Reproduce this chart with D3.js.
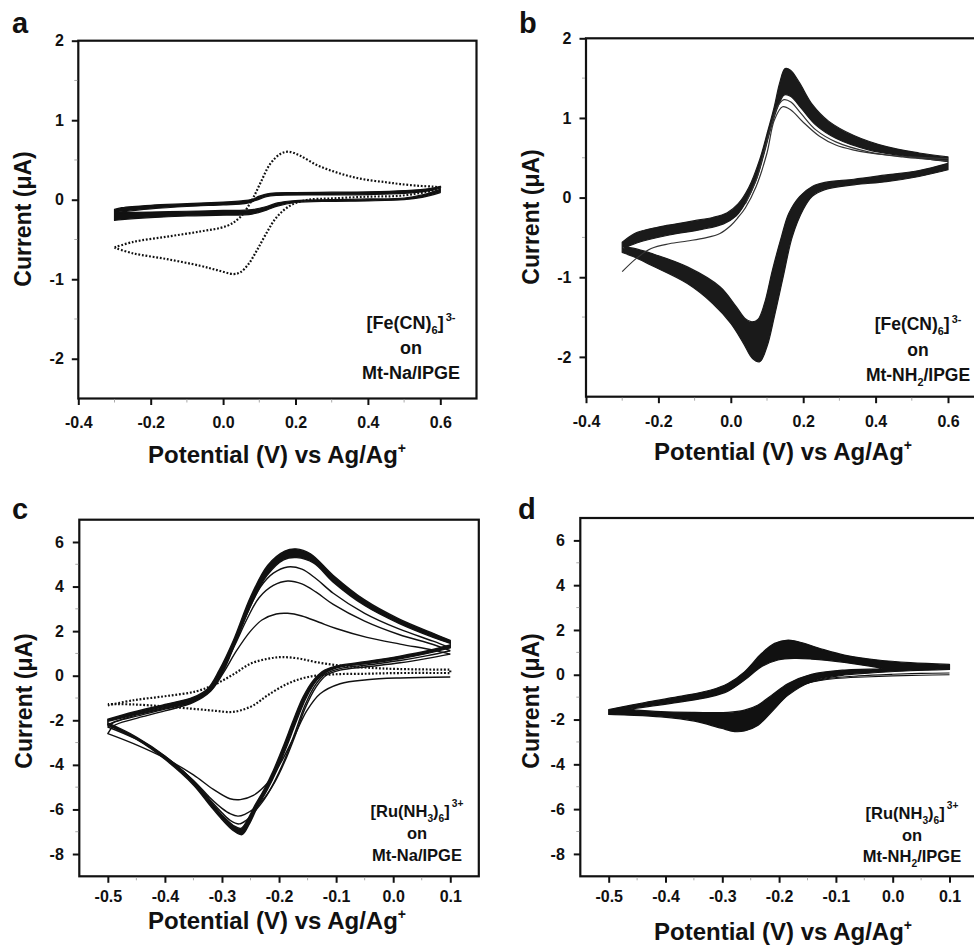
<!DOCTYPE html>
<html><head><meta charset="utf-8">
<script src="https://cdn.jsdelivr.net/npm/d3@7"></script>
<style>
html,body{margin:0;padding:0;background:#fff;}
svg{display:block;font-family:"Liberation Sans",Arial,Helvetica,sans-serif;font-weight:bold;}
</style></head><body>
<svg id="chart" width="974" height="946"></svg>
<script>
// ---------- tick values / labels ----------
const feXTicks = [-0.4,-0.2,0.0,0.2,0.4,0.6];
const feXTickLabels = ["-0.4","-0.2","0.0","0.2","0.4","0.6"];
const feYTicks = [2,1,0,-1,-2];
const feYTickLabels = ["2","1","0","-1","-2"];
const feXMinor = [-0.3,-0.1,0.1,0.3,0.5];
const feYMinor = [1.5,0.5,-0.5,-1.5];
const ruXTicks = [-0.5,-0.4,-0.3,-0.2,-0.1,0.0,0.1];
const ruXTickLabels = ["-0.5","-0.4","-0.3","-0.2","-0.1","0.0","0.1"];
const ruYTicks = [6,4,2,0,-2,-4,-6,-8];
const ruYTickLabels = ["6","4","2","0","-2","-4","-6","-8"];
const ruXMinor = [-0.45,-0.35,-0.25,-0.15,-0.05,0.05];
const ruYMinor = [5,3,1,-1,-3,-5,-7];

// ---------- panel a : [Fe(CN)6]3- on Mt-Na/IPGE ----------  [E (V), I (uA)]
const aBareAnodic = [[-0.30,-0.60],[-0.248,-0.53],[-0.156,-0.465],[-0.064,-0.40],[0.01,-0.33],[0.047,-0.22],[0.079,-0.01],[0.102,0.20],[0.13,0.45],[0.158,0.575],[0.181,0.604],[0.213,0.553],[0.259,0.436],[0.305,0.356],[0.35,0.295],[0.397,0.25],[0.45,0.22],[0.489,0.197],[0.54,0.175],[0.581,0.164],[0.60,0.155]];
const aBareCathodic = [[0.60,0.13],[0.581,0.113],[0.489,0.05],[0.397,0.038],[0.305,0.017],[0.231,-0.004],[0.185,-0.075],[0.148,-0.22],[0.121,-0.41],[0.093,-0.64],[0.07,-0.81],[0.047,-0.914],[0.029,-0.935],[-0.017,-0.885],[-0.064,-0.83],[-0.156,-0.746],[-0.248,-0.675],[-0.30,-0.605]];
const aNaOuterAnodic = [[-0.30,-0.12],[-0.28,-0.10],[-0.20,-0.07],[-0.10,-0.05],[0.00,-0.03],[0.05,-0.015],[0.08,0.005],[0.10,0.045],[0.13,0.08],[0.20,0.09],[0.30,0.095],[0.40,0.10],[0.50,0.115],[0.57,0.14],[0.60,0.17]];
const aNaOuterCathodic = [[0.60,0.09],[0.55,0.03],[0.50,0.0],[0.40,-0.015],[0.30,-0.02],[0.20,-0.035],[0.15,-0.08],[0.12,-0.13],[0.08,-0.18],[0.00,-0.195],[-0.10,-0.205],[-0.20,-0.225],[-0.28,-0.25],[-0.30,-0.26]];
const aNaInnerAnodic = [[-0.30,-0.16],[-0.20,-0.115],[-0.10,-0.085],[0.00,-0.065],[0.06,-0.05],[0.09,-0.01],[0.12,0.04],[0.15,0.055],[0.30,0.06],[0.40,0.065],[0.50,0.08],[0.58,0.12],[0.60,0.15]];
const aNaInnerCathodic = [[0.60,0.13],[0.55,0.06],[0.50,0.02],[0.40,0.01],[0.30,0.0],[0.20,-0.01],[0.15,-0.04],[0.12,-0.085],[0.08,-0.125],[0.00,-0.135],[-0.10,-0.145],[-0.20,-0.155],[-0.30,-0.165]];

// ---------- panel b : [Fe(CN)6]3- on Mt-NH2/IPGE ----------
const bBandOuterAnodic = [[-0.30,-0.56],[-0.26,-0.44],[-0.20,-0.37],[-0.15,-0.33],[-0.10,-0.29],[-0.05,-0.25],[-0.01,-0.19],[0.02,-0.08],[0.05,0.13],[0.08,0.48],[0.10,0.80],[0.12,1.14],[0.135,1.44],[0.15,1.62],[0.165,1.60],[0.19,1.44],[0.225,1.17],[0.27,0.96],[0.34,0.78],[0.43,0.64],[0.52,0.56],[0.60,0.51]];
const bBandOuterCathodic = [[0.60,0.35],[0.52,0.265],[0.43,0.20],[0.34,0.16],[0.26,0.10],[0.225,0.015],[0.20,-0.15],[0.17,-0.49],[0.145,-0.99],[0.12,-1.50],[0.10,-1.87],[0.08,-2.06],[0.06,-2.02],[0.035,-1.83],[0.00,-1.58],[-0.05,-1.33],[-0.12,-1.08],[-0.22,-0.85],[-0.27,-0.74],[-0.30,-0.69]];
const bBandInnerAnodic = [[-0.30,-0.65],[-0.26,-0.57],[-0.17,-0.47],[-0.08,-0.40],[-0.02,-0.33],[0.015,-0.23],[0.04,-0.07],[0.07,0.22],[0.09,0.52],[0.11,0.86],[0.13,1.14],[0.148,1.29],[0.166,1.27],[0.195,1.12],[0.235,0.91],[0.29,0.745],[0.38,0.60],[0.475,0.525],[0.60,0.45]];
const bBandInnerCathodic = [[0.60,0.43],[0.52,0.34],[0.43,0.285],[0.34,0.23],[0.26,0.19],[0.225,0.14],[0.19,0.013],[0.16,-0.20],[0.14,-0.49],[0.115,-0.91],[0.093,-1.33],[0.075,-1.53],[0.058,-1.56],[0.04,-1.52],[0.015,-1.37],[-0.03,-1.12],[-0.12,-0.87],[-0.22,-0.70],[-0.27,-0.635],[-0.30,-0.62]];
const bCycle1 = [[-0.30,-0.93],[-0.26,-0.76],[-0.22,-0.64],[-0.17,-0.58],[-0.12,-0.545],[-0.07,-0.505],[-0.03,-0.45],[0.00,-0.35],[0.02,-0.25],[0.04,-0.13],[0.07,0.14],[0.10,0.56],[0.12,0.97],[0.143,1.14],[0.166,1.10],[0.198,0.955],[0.245,0.77],[0.29,0.66],[0.337,0.60],[0.43,0.535],[0.52,0.505],[0.60,0.49]];
const bCycle2 = [[0.04,-0.08],[0.07,0.22],[0.09,0.54],[0.11,0.88],[0.13,1.15],[0.147,1.23],[0.166,1.20],[0.195,1.05],[0.235,0.85],[0.29,0.70],[0.38,0.575],[0.475,0.51],[0.60,0.46]];

// ---------- panel c : [Ru(NH3)6]3+ on Mt-Na/IPGE ----------
const cBareAnodic = [[-0.50,-1.33],[-0.455,-1.10],[-0.40,-0.92],[-0.345,-0.70],[-0.31,-0.36],[-0.28,0.06],[-0.25,0.54],[-0.22,0.76],[-0.195,0.835],[-0.165,0.77],[-0.135,0.61],[-0.095,0.46],[-0.045,0.36],[0.01,0.30],[0.10,0.27]];
const cBareCathodic = [[0.10,0.12],[0.01,0.12],[-0.045,0.09],[-0.105,0.06],[-0.15,-0.06],[-0.185,-0.36],[-0.22,-0.88],[-0.245,-1.33],[-0.268,-1.56],[-0.286,-1.63],[-0.31,-1.58],[-0.34,-1.51],[-0.40,-1.38],[-0.455,-1.29],[-0.50,-1.27]];
const cBandOuterAnodic = [[-0.50,-1.95],[-0.455,-1.63],[-0.40,-1.29],[-0.35,-0.96],[-0.325,-0.58],[-0.305,0.24],[-0.28,1.58],[-0.25,3.53],[-0.22,4.95],[-0.19,5.59],[-0.17,5.69],[-0.145,5.47],[-0.105,4.5],[-0.05,3.4],[0.01,2.55],[0.07,1.9],[0.10,1.58]];
const cBandOuterCathodic = [[0.10,1.25],[0.06,1.0],[0.012,0.76],[-0.046,0.54],[-0.093,0.39],[-0.117,0.16],[-0.134,-0.21],[-0.152,-0.96],[-0.169,-2.0],[-0.187,-3.2],[-0.204,-4.25],[-0.221,-5.14],[-0.238,-5.9],[-0.252,-6.65],[-0.265,-7.13],[-0.28,-6.95],[-0.30,-6.45],[-0.32,-5.85],[-0.35,-4.9],[-0.40,-3.75],[-0.45,-2.85],[-0.50,-2.22]];
const cBandInnerAnodic = [[-0.50,-2.05],[-0.455,-1.76],[-0.40,-1.42],[-0.35,-1.12],[-0.32,-0.66],[-0.297,0.24],[-0.275,1.58],[-0.247,3.3],[-0.221,4.5],[-0.192,5.2],[-0.169,5.3],[-0.139,5.05],[-0.105,4.2],[-0.05,3.15],[0.01,2.35],[0.07,1.72],[0.10,1.45]];
const cBandInnerCathodic = [[0.10,1.38],[0.06,1.12],[0.012,0.88],[-0.046,0.64],[-0.093,0.47],[-0.12,0.25],[-0.14,-0.21],[-0.158,-0.96],[-0.175,-2.0],[-0.193,-3.2],[-0.21,-4.25],[-0.227,-5.14],[-0.243,-5.85],[-0.256,-6.5],[-0.267,-6.85],[-0.28,-6.72],[-0.30,-6.25],[-0.32,-5.65],[-0.35,-4.72],[-0.40,-3.6],[-0.45,-2.75],[-0.50,-2.12]];
const cCycle1Cathodic = [[0.10,-0.06],[0.012,-0.10],[-0.046,-0.18],[-0.093,-0.36],[-0.128,-0.81],[-0.151,-1.56],[-0.174,-2.75],[-0.198,-3.95],[-0.221,-4.84],[-0.245,-5.37],[-0.268,-5.56],[-0.286,-5.52],[-0.315,-5.1],[-0.35,-4.45],[-0.40,-3.7],[-0.455,-3.05],[-0.50,-2.6]];
const cCycle1Anodic = [[-0.50,-2.6],[-0.49,-2.25],[-0.455,-1.95],[-0.40,-1.58],[-0.35,-1.2],[-0.32,-0.7],[-0.297,0.15],[-0.275,1.1],[-0.25,2.0],[-0.23,2.5],[-0.205,2.77],[-0.185,2.8],[-0.16,2.68],[-0.13,2.4],[-0.10,2.12],[-0.046,1.72],[0.012,1.42],[0.07,1.15],[0.10,0.97]];
const cCycle2Cathodic = [[0.10,0.97],[0.06,0.78],[0.012,0.58],[-0.046,0.40],[-0.093,0.25],[-0.117,0.02],[-0.135,-0.5],[-0.155,-1.5],[-0.172,-2.7],[-0.19,-3.85],[-0.208,-4.8],[-0.226,-5.5],[-0.243,-5.95],[-0.26,-6.22],[-0.272,-6.3],[-0.285,-6.2],[-0.30,-5.95],[-0.32,-5.5],[-0.35,-4.7],[-0.40,-3.65],[-0.45,-2.85],[-0.50,-2.3]];
const cCycle2Anodic = [[-0.50,-2.3],[-0.49,-2.1],[-0.455,-1.85],[-0.40,-1.5],[-0.35,-1.16],[-0.322,-0.68],[-0.30,0.2],[-0.278,1.35],[-0.255,2.6],[-0.235,3.5],[-0.21,4.05],[-0.185,4.25],[-0.16,4.12],[-0.135,3.75],[-0.105,3.2],[-0.05,2.45],[0.01,1.85],[0.07,1.4],[0.10,1.12]];
const cCycle3Cathodic = [[0.10,1.12],[0.06,0.9],[0.012,0.68],[-0.046,0.48],[-0.093,0.32],[-0.118,0.08],[-0.136,-0.4],[-0.155,-1.35],[-0.172,-2.55],[-0.19,-3.75],[-0.208,-4.75],[-0.226,-5.55],[-0.243,-6.1],[-0.258,-6.5],[-0.27,-6.65],[-0.285,-6.5],[-0.30,-6.15],[-0.32,-5.6],[-0.35,-4.72],[-0.40,-3.62],[-0.45,-2.8],[-0.50,-2.2]];
const cCycle3Anodic = [[-0.50,-2.2],[-0.49,-2.08],[-0.455,-1.8],[-0.40,-1.46],[-0.35,-1.14],[-0.322,-0.66],[-0.30,0.22],[-0.278,1.45],[-0.253,2.95],[-0.232,4.0],[-0.21,4.6],[-0.185,4.88],[-0.16,4.78],[-0.135,4.35],[-0.105,3.7],[-0.05,2.8],[0.01,2.1],[0.07,1.55],[0.10,1.25]];

// ---------- panel d : [Ru(NH3)6]3+ on Mt-NH2/IPGE ----------
const dBandOuterAnodic = [[-0.50,-1.55],[-0.436,-1.24],[-0.378,-0.98],[-0.32,-0.68],[-0.29,-0.39],[-0.261,0.13],[-0.231,0.95],[-0.208,1.4],[-0.184,1.55],[-0.161,1.44],[-0.125,1.15],[-0.085,0.88],[-0.026,0.66],[0.031,0.54],[0.10,0.46]];
const dBandOuterCathodic = [[0.10,0.24],[0.031,0.18],[-0.026,0.10],[-0.085,-0.01],[-0.143,-0.31],[-0.184,-0.91],[-0.213,-1.65],[-0.237,-2.25],[-0.261,-2.51],[-0.278,-2.54],[-0.302,-2.39],[-0.349,-2.07],[-0.408,-1.88],[-0.466,-1.8],[-0.50,-1.77]];
const dBandInnerAnodic = [[-0.46,-1.52],[-0.378,-1.23],[-0.32,-0.98],[-0.29,-0.73],[-0.261,-0.24],[-0.231,0.36],[-0.202,0.66],[-0.172,0.73],[-0.143,0.70],[-0.085,0.55],[-0.02,0.30]];
const dBandInnerCathodic = [[-0.02,0.26],[-0.085,0.21],[-0.143,0.02],[-0.184,-0.39],[-0.213,-0.91],[-0.237,-1.35],[-0.261,-1.58],[-0.29,-1.68],[-0.349,-1.68],[-0.408,-1.65],[-0.46,-1.56]];
const dThin1 = [[-0.19,-0.8],[-0.16,-0.45],[-0.13,-0.27],[-0.10,-0.17],[-0.05,-0.1],[0.0,-0.05],[0.05,-0.02],[0.10,0.0]];
const dThin2 = [[-0.17,-0.55],[-0.14,-0.3],[-0.11,-0.15],[-0.06,-0.05],[0.0,0.02],[0.05,0.06],[0.10,0.08]];

// ---------- texts ----------
const panelLetters = ["a","b","c","d"];
const yTitle = "Current (\u03BCA)";
const xTitle = "Potential (V) vs Ag/Ag";
const xTitleSup = "+";
const annA = [[{t:"[Fe(CN)"},{t:"6",sub:1},{t:"]"},{t:"3-",sup:1,dx:2}],[{t:"on"}],[{t:"Mt-Na/IPGE"}]];
const annB = [[{t:"[Fe(CN)"},{t:"6",sub:1},{t:"]"},{t:"3-",sup:1,dx:2}],[{t:"on"}],[{t:"Mt-NH"},{t:"2",sub:1},{t:"/IPGE"}]];
const annC = [[{t:"[Ru(NH"},{t:"3",sub:1},{t:")"},{t:"6",sub:1},{t:"]"},{t:"3+",sup:2,dx:2}],[{t:"on"}],[{t:"Mt-Na/IPGE"}]];
const annD = [[{t:"[Ru(NH"},{t:"3",sub:1},{t:")"},{t:"6",sub:1},{t:"]"},{t:"3+",sup:2,dx:2}],[{t:"on"}],[{t:"Mt-NH"},{t:"2",sub:1},{t:"/IPGE"}]];

// ================= drawing =================
const svg = d3.select("#chart");
svg.append("rect").attr("width",974).attr("height",946).attr("fill","#fff");

function richText(g, x, y, segs, size){
  const t = g.append("text").attr("x",x).attr("y",y).attr("text-anchor","middle")
    .attr("font-size",size).attr("fill","#111");
  let cur = 0;
  segs.forEach(s=>{
    const target = s.sub ? size*0.28 : s.sup===1 ? -size*0.42 : s.sup===2 ? -size*0.62 : 0;
    const ts = t.append("tspan").attr("dy", target-cur).text(s.t);
    if(s.sub||s.sup) ts.attr("font-size", size*0.62);
    if(s.dx) ts.attr("dx", s.dx);
    cur = target;
  });
}

function drawPanel(cfg){
  const g = svg.append("g");
  const x = d3.scaleLinear().domain(cfg.xDomain).range(cfg.xRange);
  const y = d3.scaleLinear().domain(cfg.yDomain).range(cfg.yRange);
  const line = d3.line().x(d=>x(d[0])).y(d=>y(d[1])).curve(d3.curveCatmullRom.alpha(0.5));
  const join = (branches)=>branches.map((b,i)=>{const p=line(b);return i===0?p:"L"+p.slice(1);}).join("");

  const cg = g.append("g");
  (cfg.bands||[]).forEach(b=>{
    cg.append("path").attr("d", join(b.outer)+"Z"+join(b.inner)+"Z")
      .attr("fill", b.color).attr("fill-rule","evenodd")
      .attr("stroke", b.color).attr("stroke-width", b.sw).attr("stroke-linejoin","round");
  });
  (cfg.lines||[]).forEach(l=>{
    const p = cg.append("path").attr("d", join(l.branches)).attr("fill","none")
      .attr("stroke", l.color).attr("stroke-width", l.sw).attr("stroke-linejoin","round");
    if(l.dash) p.attr("stroke-dasharray", l.dash);
  });

  // frame
  const [x0,x1] = cfg.xRange, [y1,y0] = cfg.yRange;
  g.append("rect").attr("x",x0).attr("y",y0).attr("width",x1-x0).attr("height",y1-y0)
    .attr("fill","none").attr("stroke","#111").attr("stroke-width",2.2);

  // minor ticks
  g.append("g").selectAll("line").data(cfg.xMinor).join("line")
    .attr("x1",d=>x(d)).attr("x2",d=>x(d)).attr("y1",y1+1).attr("y2",y1+4)
    .attr("stroke","#aaa").attr("stroke-width",1);
  g.append("g").selectAll("line").data(cfg.yMinor).join("line")
    .attr("y1",d=>y(d)).attr("y2",d=>y(d)).attr("x1",x0-1).attr("x2",x0-4)
    .attr("stroke","#aaa").attr("stroke-width",1);

  // axes
  const ax = d3.axisBottom(x).tickValues(cfg.xTicks)
    .tickFormat(d=>cfg.xTickLabels[cfg.xTicks.indexOf(d)]).tickSize(6.5).tickSizeOuter(0).tickPadding(cfg.xPad);
  const gx = g.append("g").attr("transform",`translate(0,${y1})`).call(ax);
  const ay = d3.axisLeft(y).tickValues(cfg.yTicks)
    .tickFormat(d=>cfg.yTickLabels[cfg.yTicks.indexOf(d)]).tickSize(6.5).tickSizeOuter(0).tickPadding(cfg.yPad);
  const gy = g.append("g").attr("transform",`translate(${x0},0)`).call(ay);
  [gx,gy].forEach(a=>{
    a.select(".domain").remove();
    a.attr("font-family",null).attr("font-size",16);
    a.selectAll(".tick line").attr("stroke","#111").attr("stroke-width",2);
    a.selectAll(".tick text").attr("font-size",16).attr("fill","#111");
  });

  // letters and titles
  g.append("text").attr("x",cfg.letter[0]).attr("y",cfg.letter[1]).attr("font-size",29).attr("fill","#111").text(cfg.letterText);
  g.append("text").attr("transform",`translate(${cfg.yTitle[0]},${cfg.yTitle[1]}) rotate(-90)`)
    .attr("text-anchor","middle").attr("font-size",23).attr("fill","#111").text(yTitle);
  const xt = g.append("text").attr("x",cfg.xTitle[0]).attr("y",cfg.xTitle[1]).attr("text-anchor","middle")
    .attr("font-size",24).attr("fill","#111");
  xt.append("tspan").text(xTitle);
  xt.append("tspan").attr("dy",-10).attr("font-size",14).text(xTitleSup);

  cfg.ann.forEach((segs,i)=>richText(g, cfg.annX, cfg.annY[i], segs, cfg.annSize));
}

const K = "#111";
drawPanel({
  letterText:panelLetters[0], letter:[12,33], yTitle:[31,219], xTitle:[277,463],
  xDomain:[-0.4,0.7], yDomain:[-2.5,2], xRange:[78.3,476.5], yRange:[398.5,40.7],
  xTicks:feXTicks, xTickLabels:feXTickLabels, yTicks:feYTicks, yTickLabels:feYTickLabels,
  xMinor:feXMinor, yMinor:feYMinor, xPad:12, yPad:8,
  bands:[{outer:[aNaOuterAnodic,aNaOuterCathodic], inner:[aNaInnerAnodic,aNaInnerCathodic], color:K, sw:1.2}],
  lines:[{branches:[aBareAnodic,aBareCathodic], color:K, sw:2.2, dash:"1.8,1.8"}],
  ann:annA, annX:411, annY:[329,354,379], annSize:18
});
drawPanel({
  letterText:panelLetters[1], letter:[519,33], yTitle:[539,217], xTitle:[783,460],
  xDomain:[-0.4,0.7], yDomain:[-2.5,2], xRange:[586,984.2], yRange:[396.7,38.3],
  xTicks:feXTicks, xTickLabels:feXTickLabels, yTicks:feYTicks, yTickLabels:feYTickLabels,
  xMinor:feXMinor, yMinor:feYMinor, xPad:12, yPad:8,
  bands:[{outer:[bBandOuterAnodic,bBandOuterCathodic], inner:[bBandInnerAnodic,bBandInnerCathodic], color:"#1a1a1a", sw:1.2}],
  lines:[{branches:[bCycle1], color:"#333", sw:1.2},{branches:[bCycle2], color:"#333", sw:1.2}],
  ann:annB, annX:918, annY:[330,356,381], annSize:17.5
});
drawPanel({
  letterText:panelLetters[2], letter:[12,519], yTitle:[32,701], xTitle:[277,929],
  xDomain:[-0.55,0.15], yDomain:[-9,7], xRange:[79.3,478.8], yRange:[876.3,519.7],
  xTicks:ruXTicks, xTickLabels:ruXTickLabels, yTicks:ruYTicks, yTickLabels:ruYTickLabels,
  xMinor:ruXMinor, yMinor:ruYMinor, xPad:8, yPad:9,
  bands:[{outer:[cBandOuterAnodic,cBandOuterCathodic], inner:[cBandInnerAnodic,cBandInnerCathodic], color:K, sw:1.4}],
  lines:[
    {branches:[cCycle1Cathodic,cCycle1Anodic], color:K, sw:1.4},
    {branches:[cCycle2Cathodic,cCycle2Anodic], color:K, sw:1.4},
    {branches:[cCycle3Cathodic,cCycle3Anodic], color:K, sw:1.4},
    {branches:[cBareAnodic,cBareCathodic], color:K, sw:2.2, dash:"1.8,1.8"}
  ],
  ann:annC, annX:417, annY:[817,839,861], annSize:16.5
});
drawPanel({
  letterText:panelLetters[3], letter:[518,519], yTitle:[539,701], xTitle:[783,940],
  xDomain:[-0.55,0.15], yDomain:[-9,7], xRange:[580.3,977.9], yRange:[876.3,518],
  xTicks:ruXTicks, xTickLabels:ruXTickLabels, yTicks:ruYTicks, yTickLabels:ruYTickLabels,
  xMinor:ruXMinor, yMinor:ruYMinor, xPad:8, yPad:9,
  bands:[{outer:[dBandOuterAnodic,dBandOuterCathodic], inner:[dBandInnerAnodic,dBandInnerCathodic], color:K, sw:1.2}],
  lines:[{branches:[dThin1], color:K, sw:1.1},{branches:[dThin2], color:K, sw:1.1}],
  ann:annD, annX:912, annY:[819,841,862], annSize:16.5
});
</script>
</body></html>
